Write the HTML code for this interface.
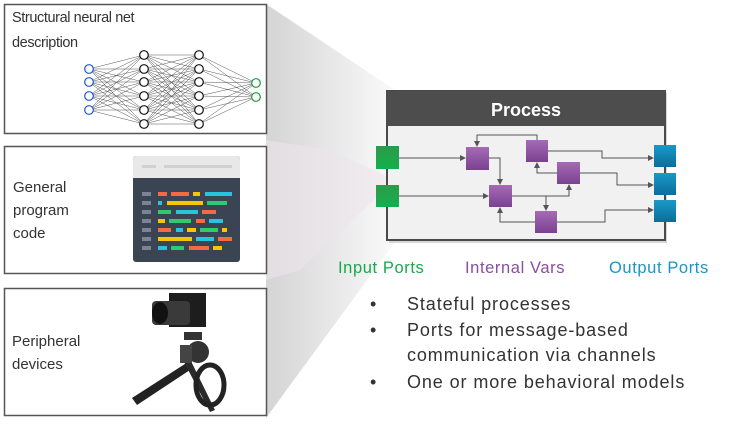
<!DOCTYPE html>
<html><head><style>
body{margin:0;background:#fff;}
svg{display:block;font-family:"Liberation Sans",sans-serif;}
</style></head><body>
<svg width="735" height="426" viewBox="0 0 735 426" xmlns="http://www.w3.org/2000/svg">
<defs>
<linearGradient id="fan" x1="0" x2="1" y1="0" y2="0">
<stop offset="0" stop-color="#d4d4d4"/><stop offset="1" stop-color="#fafafa"/></linearGradient>
<linearGradient id="pu" x1="0" y1="0" x2="0" y2="1"><stop offset="0" stop-color="#a56bb5"/><stop offset="1" stop-color="#7a4191"/></linearGradient>
<linearGradient id="gr" x1="0" y1="0" x2="0" y2="1"><stop offset="0" stop-color="#2d9a4a"/><stop offset="1" stop-color="#12b04c"/></linearGradient>
<linearGradient id="bl" x1="0" y1="0" x2="0" y2="1"><stop offset="0" stop-color="#1a98c8"/><stop offset="1" stop-color="#0a6e9a"/></linearGradient>
<marker id="ar" markerWidth="6" markerHeight="6" refX="5" refY="3" orient="auto"><path d="M0,0 L6,3 L0,6z" fill="#555"/></marker>
</defs>
<polygon points="266,4 395,90 395,242 266,418" fill="url(#fan)"/>
<polygon points="266,140 330,150 395,180 300,270 266,280" fill="#ece4ea" opacity="0.6"/>

<!-- Box1 -->
<rect x="4.5" y="4.5" width="262" height="129" fill="#fff" stroke="#555" stroke-width="1.5"/>
<g font-size="14.5" fill="#333" letter-spacing="-0.4">
<text x="12" y="22">Structural neural net</text>
<text x="12" y="47">description</text>
</g>
<g stroke="#555" stroke-width="0.5" id="nn"></g>
<g id="nodes"></g>

<!-- Box2 -->
<rect x="4.5" y="146.5" width="262" height="127" fill="#fff" stroke="#555" stroke-width="1.5"/>
<g font-size="15" fill="#333">
<text x="13" y="192">General</text>
<text x="13" y="215">program</text>
<text x="13" y="238">code</text>
</g>
<rect x="133" y="156" width="107" height="106" rx="3" fill="#3b4452"/>
<path d="M133,178 V159 a3,3 0 0 1 3,-3 H237 a3,3 0 0 1 3,3 V178z" fill="#e8e8e8"/>
<rect x="142" y="165" width="14" height="3" fill="#d0d0d0"/><rect x="164" y="165" width="68" height="3" fill="#d0d0d0"/>
<g id="code"></g>

<!-- Box3 -->
<rect x="4.5" y="288.5" width="262" height="127" fill="#fff" stroke="#555" stroke-width="1.5"/>
<g font-size="15" fill="#333">
<text x="12" y="346">Peripheral</text>
<text x="12" y="369">devices</text>
</g>
<g>
<path d="M132,398 L188,362 L193,368 L137,405z" fill="#222"/>
<path d="M188,355 L215,410 L210,412 L183,360z" fill="#2a2a2a"/>
<ellipse cx="210" cy="385" rx="14" ry="20" fill="none" stroke="#222" stroke-width="5"/>
<circle cx="198" cy="352" r="11" fill="#333"/>
<rect x="180" y="345" width="12" height="18" fill="#444"/>
<rect x="184" y="332" width="18" height="8" fill="#333"/>
<rect x="169" y="293" width="37" height="34" fill="#1d1d1d"/>
<rect x="152" y="301" width="38" height="24" rx="4" fill="#3a3a3a"/>
<ellipse cx="160" cy="313" rx="8" ry="11" fill="#111"/>
</g>

<!-- Process -->
<rect x="389" y="93" width="278" height="150" fill="#bbb" opacity="0.6"/>
<rect x="387" y="91" width="278" height="149" fill="#f1f1f1" stroke="#4a4a4a" stroke-width="2"/>
<rect x="387" y="91" width="278" height="35" fill="#4d4d4d"/>
<text x="526" y="116" font-size="18" font-weight="bold" fill="#fff" text-anchor="middle">Process</text>
<g stroke="#555" stroke-width="1" fill="none" marker-end="url(#ar)">
<path d="M399,158 H465"/>
<path d="M399,196 H488"/>
<path d="M489,158 H500 V184"/>
<path d="M537,140 V135 H477 V146"/>
<path d="M548,151 H602 V158 H653"/>
<path d="M557,173 H537 V163"/>
<path d="M580,173 H617 V185 H653"/>
<path d="M512,196 H569 V185"/>
<path d="M546,196 V210"/>
<path d="M535,222 H500 V208"/>
<path d="M557,222 H605 V210 H653"/>
</g>
<g fill="url(#gr)"><rect x="376" y="146" width="23" height="23"/><rect x="376" y="185" width="23" height="22"/></g>
<g fill="url(#pu)">
<rect x="466" y="147" width="23" height="23"/><rect x="526" y="140" width="22" height="22"/>
<rect x="557" y="162" width="23" height="22"/><rect x="489" y="185" width="23" height="22"/>
<rect x="535" y="211" width="22" height="22"/></g>
<g fill="url(#bl)"><rect x="654" y="145" width="22" height="22"/><rect x="654" y="173" width="22" height="22"/><rect x="654" y="200" width="22" height="22"/></g>

<g font-size="16.5" letter-spacing="0.6">
<text x="338" y="273" fill="#1aa84c">Input Ports</text>
<text x="465" y="273" fill="#8a4fa3">Internal Vars</text>
<text x="609" y="273" fill="#1b95c4">Output Ports</text>
</g>

<g font-size="18" fill="#333" letter-spacing="0.9">
<text x="370" y="310">•</text><text x="407" y="310">Stateful processes</text>
<text x="370" y="336">•</text><text x="407" y="336">Ports for message-based</text>
<text x="407" y="361">communication via channels</text>
<text x="370" y="388">•</text><text x="407" y="388">One or more behavioral models</text>
</g>
</svg>
<script>
var ns="http://www.w3.org/2000/svg";
function el(p,t,a){var e=document.createElementNS(ns,t);for(var k in a)e.setAttribute(k,a[k]);p.appendChild(e);}
var L=[[89,[69,82,96,110],"#2255cc"],[144,[55,69,82,96,110,124],"#111"],[199,[55,69,82,96,110,124],"#111"],[256,[83,97],"#1a9a3a"]];
var g=document.getElementById("nn"),n=document.getElementById("nodes");
for(var i=0;i<3;i++)L[i][1].forEach(function(a){L[i+1][1].forEach(function(b){el(g,"line",{x1:L[i][0],y1:a,x2:L[i+1][0],y2:b});});});
L.forEach(function(l){l[1].forEach(function(y){el(n,"circle",{cx:l[0],cy:y,r:4.3,fill:"#fff",stroke:l[2],"stroke-width":1.2});});});
var O="#f26b43",Y="#f7c600",B="#27c4dc",G="#2ecc71";
var rows=[[[158,9,O],[171,18,O],[193,7,Y],[205,27,B]],[[158,4,B],[167,36,Y],[207,20,G]],[[158,13,G],[176,22,B],[202,14,O]],[[158,7,Y],[169,22,G],[196,9,O],[209,14,B]],[[158,13,O],[176,7,B],[187,9,Y],[200,18,G],[222,5,Y]],[[158,34,Y],[196,18,B],[218,14,O]],[[158,9,B],[171,13,G],[189,20,O],[213,9,Y]]];
var c=document.getElementById("code");
rows.forEach(function(r,i){var y=192+i*9;el(c,"rect",{x:142,y:y,width:9,height:4,fill:"#7a8594"});r.forEach(function(s){el(c,"rect",{x:s[0],y:y,width:s[1],height:4,fill:s[2]});});});
</script>
</body></html>
